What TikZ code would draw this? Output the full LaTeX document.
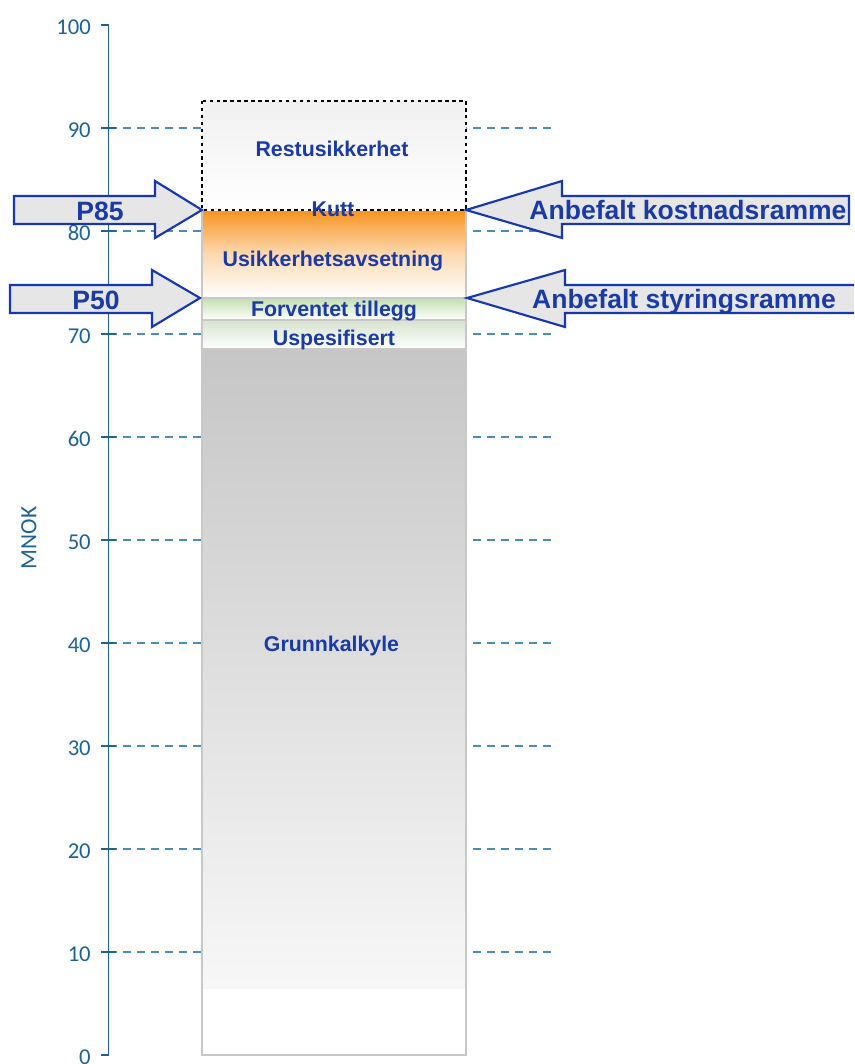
\documentclass[tikz,border=0pt]{standalone}
\usepackage{fontspec}
\setmainfont{Liberation Sans}
\newfontfamily\axisfont{Carlito}
\begin{document}
\begin{tikzpicture}[x=0.75pt,y=-0.75pt,
  axiscol/.style={draw=axisblue,line width=1.2pt},
  gridline/.style={draw=gridblue,line width=0.8pt,dash pattern=on 6pt off 4.5pt},
  ticklabel/.style={anchor=east,text=axisblue,font=\axisfont\fontsize{17}{20}\selectfont,inner sep=0pt},
  barlabel/.style={anchor=base,text=labelblue,font=\bfseries\fontsize{16}{19}\selectfont,inner sep=0pt},
  biglabel/.style={anchor=base,text=labelblue,font=\bfseries\fontsize{19.9}{23}\selectfont,inner sep=0pt},
  blockarrow/.style={draw=arrowblue,fill=arrowfill,line width=1.6pt,line join=miter},
  segline/.style={draw=segedge,line width=0.9pt}]
\definecolor{axisblue}{HTML}{1F6391}
\definecolor{gridblue}{HTML}{4A8DB8}
\definecolor{labelblue}{HTML}{1A3AA8}
\definecolor{arrowblue}{HTML}{1637B0}
\definecolor{arrowfill}{HTML}{E6E6E6}
\definecolor{segedge}{HTML}{C8C8C8}
\definecolor{costorange}{HTML}{F7931E}
\definecolor{addgreen}{HTML}{C3DFAF}
\definecolor{unspecgreen}{HTML}{D6E3CF}
\definecolor{basegray}{HTML}{C6C6C6}
\definecolor{restgray}{HTML}{F0F0F0}

\useasboundingbox (0,0) rectangle (854,1064);
\clip (0,0) rectangle (854,1064);

% y axis: value v sits at pixel row 1055 - 10.3 v
\draw[gridline] (109,128) -- (556,128);
\foreach \v in {10,20,...,80} {
  \draw[gridline] (109,{1055-10.3*\v}) -- (556,{1055-10.3*\v});
}
\draw[axiscol] (108.5,25) -- (108.5,1055);
\draw[axiscol] (101,25) -- (109,25);
\draw[axiscol] (101,1055) -- (109,1055);
\foreach \v in {10,20,...,90} {
  \draw[axiscol] (101,{1055-10.3*\v}) -- (116,{1055-10.3*\v});
}
\foreach \v in {0,10,...,100} {
  \node[ticklabel] (tick\v) at (91,{1057-10.3*\v}) {\v};
}
\node[text=axisblue,font=\axisfont\fontsize{17.5}{20}\selectfont,rotate=90,inner sep=0pt] (unit) at (29,538) {MNOK};

% stacked column
\fill[white] (202,988) rectangle (466,1055);
\shade[top color=basegray,bottom color=white!97!black] (202,349) rectangle (466,988);
\draw[segline] (202,349) rectangle (466,1055);
\shade[top color=unspecgreen,bottom color=white] (202,320) rectangle (466,349);
\draw[segline] (202,320) rectangle (466,349);
\shade[top color=addgreen,bottom color=white] (202,298) rectangle (466,320);
\draw[segline] (202,298) rectangle (466,320);
\shade[top color=costorange,bottom color=white,middle color=costorange!35!white] (202,210) rectangle (466,298);
\draw[segline] (202,210) rectangle (466,298);
\shade[top color=restgray,bottom color=white] (202,101) rectangle (466,210);
\draw[black,line width=1.2pt,dash pattern=on 2.6pt off 2.6pt] (202,101) rectangle (466,210);

\node[barlabel] (rest) at (332,156.7) {Restusikkerhet};
\node[barlabel] (cut) at (333,216.5) {Kutt};
\node[barlabel] (contingency) at (333,266) {Usikkerhetsavsetning};
\node[barlabel] (expected) at (334,316) {Forventet tillegg};
\node[barlabel] (unspec) at (334,345) {Uspesifisert};
\node[barlabel] (base) at (331.5,651.7) {Grunnkalkyle};

% block arrows pointing at the column
\draw[blockarrow] (14,196) -- (155,196) -- (155,181) -- (202,210) -- (155,238) -- (155,224) -- (14,224) -- cycle;
\node[biglabel] (p85) at (100,220.7) {P85};
\draw[blockarrow] (10,285) -- (152,285) -- (152,270) -- (200,298) -- (152,327) -- (152,313) -- (10,313) -- cycle;
\node[biglabel] (p50) at (96,309) {P50};
\draw[blockarrow] (466,210) -- (562,181) -- (562,196) -- (849,196) -- (849,224) -- (562,224) -- (562,238) -- cycle;
\node[biglabel] (costframe) at (688,219.3) {Anbefalt kostnadsramme};
\draw[blockarrow] (467,298) -- (565,270) -- (565,285) -- (870,285) -- (870,313) -- (565,313) -- (565,327) -- cycle;
\node[biglabel] (steerframe) at (684,308) {Anbefalt styringsramme};
\end{tikzpicture}
\end{document}
